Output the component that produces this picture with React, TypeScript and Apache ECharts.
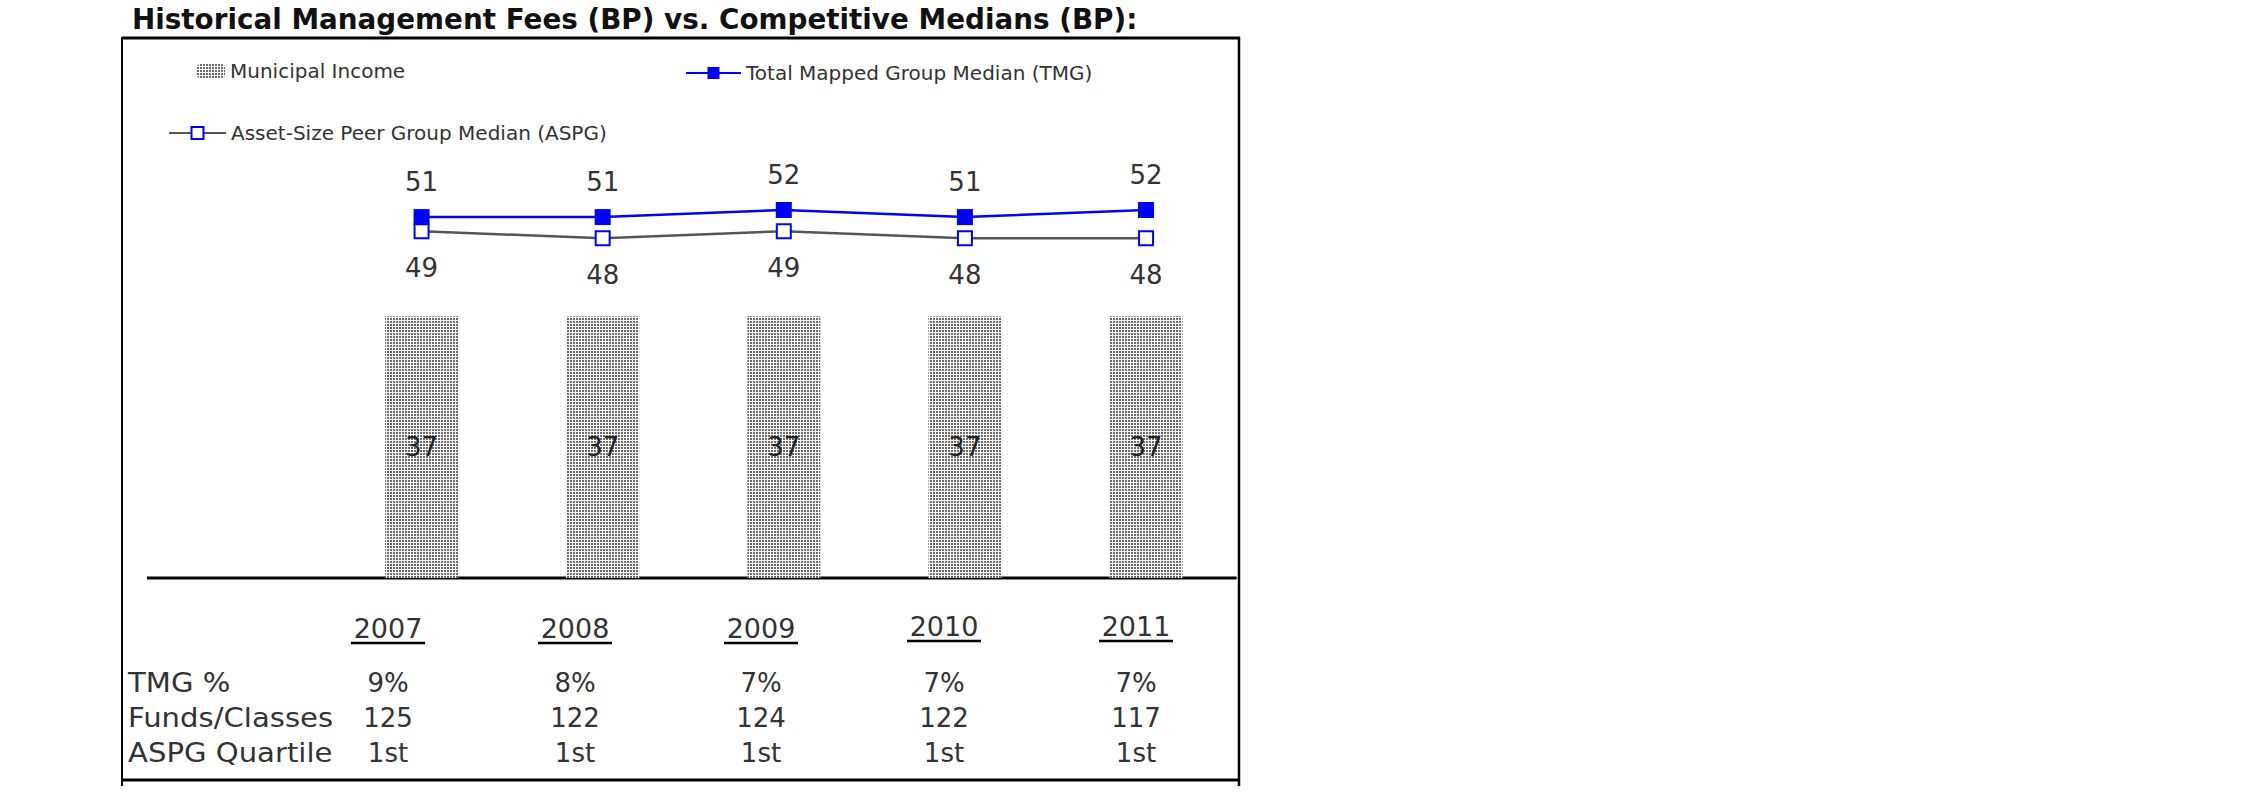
import React, { useEffect, useRef } from "react";
import * as echarts from "echarts";

// ---------- data ----------
const TITLE = "Historical Management Fees (BP) vs. Competitive Medians (BP):";
const YEARS = ["2007", "2008", "2009", "2010", "2011"];
const SERIES_NAMES = [
  "Municipal Income",
  "Total Mapped Group Median (TMG)",
  "Asset-Size Peer Group Median (ASPG)",
];
const MUNICIPAL_INCOME = [37, 37, 37, 37, 37];
const TMG_MEDIAN = [51, 51, 52, 51, 52];
const ASPG_MEDIAN = [49, 48, 49, 48, 48];
const ROW_LABELS = ["TMG %", "Funds/Classes", "ASPG Quartile"];
const TMG_PCT = ["9%", "8%", "7%", "7%", "7%"];
const FUNDS_CLASSES = ["125", "122", "124", "122", "117"];
const ASPG_QUARTILE = ["1st", "1st", "1st", "1st", "1st"];
const Y_MIN = 0;
const Y_MAX = 60;

// ---------- layout ----------
const W = 2250;
const H = 796;
const FONT = "'DejaVu Sans', Verdana, sans-serif";
const BOX = { left: 122, right: 1239, top: 38, bottom: 780 };
const BASE_Y = 578;
const PX_PER_UNIT = 7.077;
const GRID_LEFT = 331;
const GRID_RIGHT_X = 1236.6;
const TABLE_COL_X = [388, 575, 761, 944, 1136];
const YEAR_ROW_Y = [628, 628, 628, 626, 626];
const ROW_Y = [683, 718, 753];
const ROW_LABEL_X = 128;
const TEXT_COLOR = "#333";

function txt(
  x: number,
  y: number,
  text: string,
  size: number,
  align = "left",
  weight = "normal",
  fill = TEXT_COLOR,
  scaleX = 1
) {
  return {
    type: "text",
    x,
    y,
    scaleX,
    silent: true,
    style: {
      text,
      fontSize: size,
      fontFamily: FONT,
      fontWeight: weight,
      fill,
      textAlign: align,
      align,
      textVerticalAlign: "middle",
      verticalAlign: "middle",
    },
  };
}

function ln(x1: number, y1: number, x2: number, y2: number, w: number, c = "#000") {
  return {
    type: "line",
    silent: true,
    shape: { x1, y1, x2, y2 },
    style: { stroke: c, lineWidth: w },
  };
}

function buildGraphics() {
  const g: any[] = [];
  g.push(txt(132, 19, TITLE, 27.8, "left", "bold", "#111"));
  // frame
  g.push(ln(BOX.left, BOX.top, BOX.right + 1, BOX.top, 3));
  g.push(ln(BOX.left, BOX.top - 1, BOX.left, BOX.bottom + 6, 2));
  g.push(ln(BOX.right, BOX.top - 1, BOX.right, BOX.bottom + 6, 2.5));
  g.push(ln(BOX.left, BOX.bottom, BOX.right + 1, BOX.bottom, 3));
  // category baseline
  g.push(ln(147, BASE_Y, GRID_RIGHT_X, BASE_Y, 3));
  // table
  YEARS.forEach((y, i) => {
    const cx = TABLE_COL_X[i];
    g.push(txt(cx, YEAR_ROW_Y[i], y, 27, "center"));
    g.push(ln(cx - 37, YEAR_ROW_Y[i] + 15, cx + 37, YEAR_ROW_Y[i] + 15, 2.5));
  });
  ROW_LABELS.forEach((r, j) =>
    g.push(txt(ROW_LABEL_X, ROW_Y[j], r, 26, "left", "normal", TEXT_COLOR, 1.12))
  );
  const rows = [TMG_PCT, FUNDS_CLASSES, ASPG_QUARTILE];
  rows.forEach((row, j) =>
    row.forEach((v, i) => g.push(txt(TABLE_COL_X[i], ROW_Y[j], v, 26, "center")))
  );
  return g;
}

const legendText = { fontSize: 20, color: TEXT_COLOR, fontFamily: FONT };

const option: any = {
  animation: false,
  backgroundColor: "#fff",
  textStyle: { fontFamily: FONT },
  grid: {
    left: GRID_LEFT,
    right: W - GRID_RIGHT_X,
    top: BASE_Y - (Y_MAX - Y_MIN) * PX_PER_UNIT,
    bottom: H - BASE_Y,
    containLabel: false,
  },
  legend: [
    {
      data: [SERIES_NAMES[0]],
      left: 197,
      top: 61,
      padding: 0,
      itemWidth: 28,
      itemHeight: 14,
      selectedMode: false,
      textStyle: legendText,
    },
    {
      data: [SERIES_NAMES[1]],
      left: 685,
      top: 63,
      padding: 0,
      itemWidth: 55,
      itemHeight: 15,
      selectedMode: false,
      textStyle: legendText,
    },
    {
      data: [SERIES_NAMES[2]],
      left: 168,
      top: 123,
      padding: 0,
      itemWidth: 57,
      itemHeight: 15,
      selectedMode: false,
      textStyle: legendText,
    },
  ],
  xAxis: {
    type: "category",
    data: YEARS,
    axisLine: { show: false },
    axisTick: { show: false },
    axisLabel: { show: false },
  },
  yAxis: {
    type: "value",
    min: Y_MIN,
    max: Y_MAX,
    show: false,
    splitLine: { show: false },
  },
  series: [
    {
      name: SERIES_NAMES[0],
      type: "bar",
      data: MUNICIPAL_INCOME,
      barWidth: 73,
      itemStyle: {
        color: "#fff",
        decal: {
          symbol: "rect",
          symbolSize: 1,
          color: "#6a6a6a",
          dashArrayX: [2, 1],
          dashArrayY: [2, 1],
          rotation: 0,
        },
      },
      label: {
        show: true,
        position: "inside",
        fontSize: 26,
        color: "#222",
        fontFamily: FONT,
      },
    },
    {
      name: SERIES_NAMES[1],
      type: "line",
      data: TMG_MEDIAN,
      symbol: "rect",
      symbolSize: 16,
      itemStyle: { color: "#0000ff" },
      lineStyle: { color: "#0000ff", width: 2.5 },
      label: {
        show: true,
        position: "top",
        distance: 14,
        fontSize: 26,
        color: TEXT_COLOR,
        fontFamily: FONT,
      },
    },
    {
      name: SERIES_NAMES[2],
      type: "line",
      data: ASPG_MEDIAN,
      symbol: "rect",
      symbolSize: 14,
      itemStyle: { color: "#ffffff", borderColor: "#0000ff", borderWidth: 2 },
      lineStyle: { color: "#555", width: 2.5 },
      label: {
        show: true,
        position: "bottom",
        distance: 16,
        fontSize: 26,
        color: TEXT_COLOR,
        fontFamily: FONT,
      },
    },
  ],
  graphic: { elements: buildGraphics() },
};

export default function App() {
  const ref = useRef<HTMLDivElement>(null);
  useEffect(() => {
    if (!ref.current) return;
    const chart = echarts.init(ref.current, null, { renderer: "svg" });
    chart.setOption(option);
    return () => chart.dispose();
  }, []);
  return (
    <div
      ref={ref}
      style={{ position: "fixed", left: 0, top: 0, width: W, height: H, background: "#fff" }}
    />
  );
}
